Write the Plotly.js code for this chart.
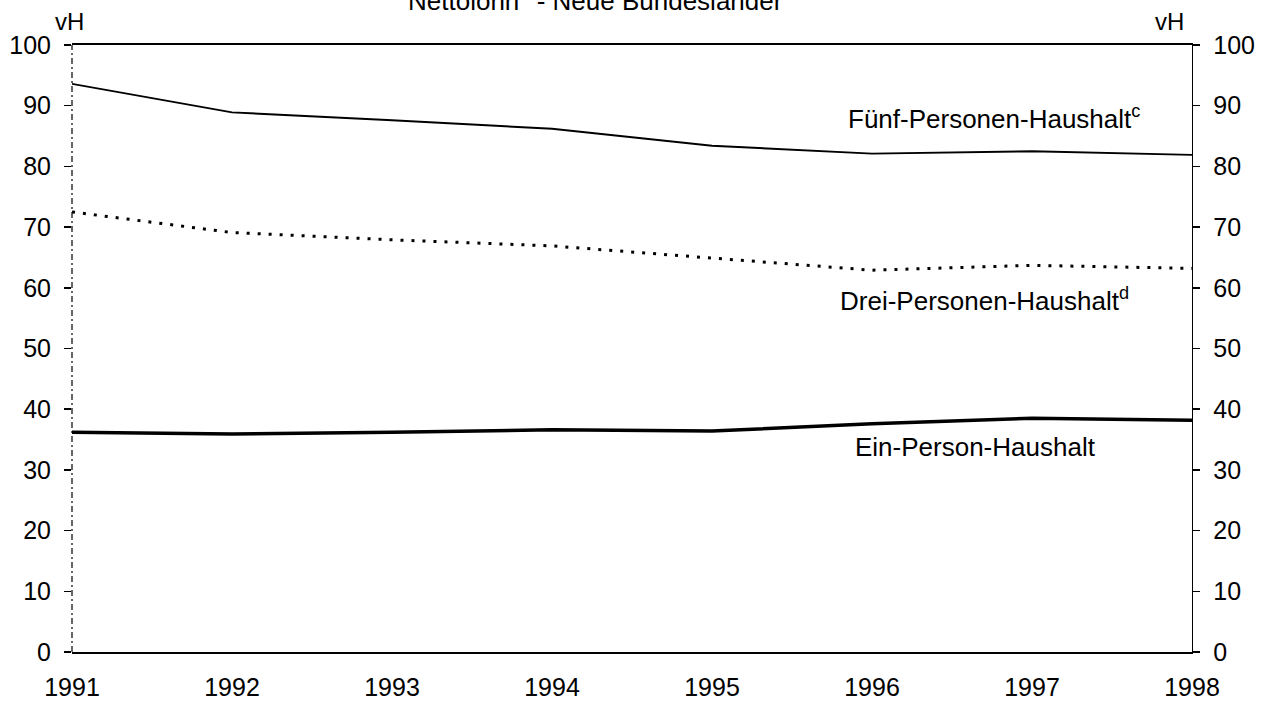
<!DOCTYPE html>
<html>
<head>
<meta charset="utf-8">
<script src="https://cdn.plot.ly/plotly-3.0.1.min.js"></script>
<style>html,body{margin:0;padding:0;background:#fff;}#chart{width:1262px;height:702px;}</style>
</head>
<body>
<div id="chart"></div>
<script>
const years = [1991, 1992, 1993, 1994, 1995, 1996, 1997, 1998];
const fuenfPersonen = [93.6, 88.9, 87.6, 86.2, 83.4, 82.1, 82.5, 81.9];
const dreiPersonen = [72.5, 69.1, 67.9, 66.9, 64.9, 62.9, 63.7, 63.2];
const einPerson = [36.2, 35.9, 36.2, 36.6, 36.4, 37.6, 38.5, 38.2];
const yTicks = [0, 10, 20, 30, 40, 50, 60, 70, 80, 90, 100];
const seriesLabels = ['Fünf-Personen-Haushalt<sup>c</sup>', 'Drei-Personen-Haushalt<sup>d</sup>', 'Ein-Person-Haushalt'];
const titleText = 'Nettolohn<sup>b</sup> - Neue Bundesländer';
const unitText = 'vH';

const font = 'Liberation Sans, Arial, Helvetica, sans-serif';

const traces = [
  {x: years, y: fuenfPersonen, type: 'scatter', mode: 'lines', line: {color: '#000', width: 1.9}, hoverinfo: 'skip', showlegend: false},
  {x: years, y: dreiPersonen, type: 'scatter', mode: 'lines', line: {color: '#000', width: 3, dash: '3px,8px'}, hoverinfo: 'skip', showlegend: false},
  {x: years, y: einPerson, type: 'scatter', mode: 'lines', line: {color: '#000', width: 3.5}, hoverinfo: 'skip', showlegend: false},
  {x: years, y: einPerson, type: 'scatter', mode: 'lines', yaxis: 'y2', line: {color: 'rgba(0,0,0,0)', width: 0}, hoverinfo: 'skip', showlegend: false}
];

const layout = {
  width: 1262, height: 702,
  margin: {l: 72, r: 70, t: 45, b: 50},
  paper_bgcolor: '#fff', plot_bgcolor: '#fff',
  font: {family: font, color: '#000', size: 25},
  xaxis: {
    range: [1991, 1998], tickvals: years, ticktext: years.map(String),
    showgrid: false, zeroline: false, showline: true, linecolor: '#000', linewidth: 1.6,
    mirror: true, ticks: '', ticklabelstandoff: 12, tickfont: {size: 25}
  },
  yaxis: {
    range: [0, 100], tickvals: yTicks, showgrid: false, zeroline: false, showline: false,
    ticks: 'outside', ticklen: 7, tickwidth: 1.5, tickcolor: '#000', ticklabelstandoff: 8,
    tickfont: {size: 25}
  },
  yaxis2: {
    range: [0, 100], tickvals: yTicks, overlaying: 'y', side: 'right', showgrid: false,
    zeroline: false, showline: true, linecolor: '#000', linewidth: 1.3,
    ticks: 'outside', ticklen: 7, tickwidth: 1.5, tickcolor: '#000', ticklabelstandoff: 8,
    tickfont: {size: 25}
  },
  shapes: [
    {type: 'line', xref: 'paper', yref: 'paper', x0: 0, x1: 0, y0: 0, y1: 1,
     line: {color: '#000', width: 1.2, dash: '6px,3px,2px,3px'}}
  ],
  annotations: [
    {xref: 'paper', yref: 'paper', x: 0.467, y: 1.045, xanchor: 'center', yanchor: 'bottom',
     text: titleText, showarrow: false, font: {size: 26}},
    {xref: 'paper', yref: 'paper', x: -0.002, y: 1.038, xanchor: 'center', yanchor: 'middle',
     text: unitText, showarrow: false, font: {size: 24}},
    {xref: 'paper', yref: 'paper', x: 0.98, y: 1.038, xanchor: 'center', yanchor: 'middle',
     text: unitText, showarrow: false, font: {size: 24}},
    {xref: 'x', yref: 'y', x: 1995.84, y: 88.1, xanchor: 'left', yanchor: 'middle',
     text: seriesLabels[0], showarrow: false, font: {size: 26}},
    {xref: 'x', yref: 'y', x: 1995.79, y: 58.0, xanchor: 'left', yanchor: 'middle',
     text: seriesLabels[1], showarrow: false, font: {size: 26}},
    {xref: 'x', yref: 'y', x: 1995.88, y: 33.8, xanchor: 'left', yanchor: 'middle',
     text: seriesLabels[2], showarrow: false, font: {size: 26}}
  ]
};

Plotly.newPlot('chart', traces, layout, {displayModeBar: false, staticPlot: true});
</script>
</body>
</html>
